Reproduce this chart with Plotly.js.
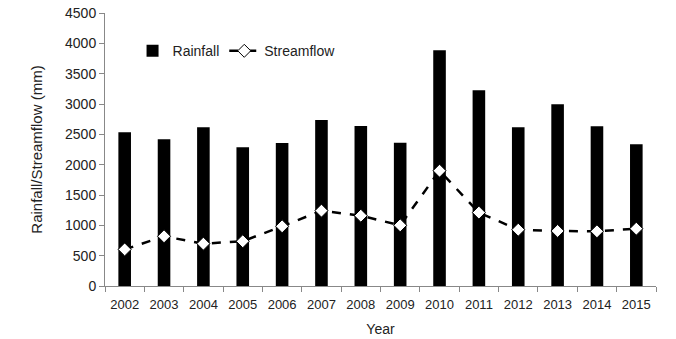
<!DOCTYPE html>
<html>
<head>
<meta charset="utf-8">
<script src="https://cdn.plot.ly/plotly-3.0.1.min.js"></script>
<style>html,body{margin:0;padding:0;background:#fff;}#chart{width:676px;height:339px;}</style>
</head>
<body>
<div id="chart"></div>
<script>
const years = ["2002","2003","2004","2005","2006","2007","2008","2009","2010","2011","2012","2013","2014","2015"];
const rainfall = [2534, 2418, 2616, 2286, 2357, 2737, 2638, 2362, 3885, 3226, 2616, 2995, 2632, 2335];
const streamflow = [603, 819, 698, 737, 984, 1242, 1159, 1000, 1900, 1210, 928, 907, 901, 945];
const yTicks = [0, 500, 1000, 1500, 2000, 2500, 3000, 3500, 4000, 4500];

const font = "Liberation Sans, Arial, sans-serif";
const traces = [
  {
    type: "bar", name: "Rainfall", x: years, y: rainfall,
    marker: {color: "#000000"}
  },
  {
    type: "scatter", mode: "lines+markers", name: "Streamflow", x: years, y: streamflow,
    line: {color: "#000000", width: 2.5, dash: "dash"},
    marker: {symbol: "diamond", size: 10, color: "#ffffff", line: {color: "#000000", width: 1}}
  }
];
const layout = {
  width: 676, height: 339,
  margin: {l: 105, r: 20, t: 13, b: 53},
  paper_bgcolor: "#ffffff", plot_bgcolor: "#ffffff",
  font: {family: font, size: 13, color: "#222222"},
  bargap: 0.68,
  showlegend: true,
  legend: {orientation: "h", x: 0.05, y: 0.86, xanchor: "left", yanchor: "middle",
           font: {family: font, size: 14, color: "#222222"}, bgcolor: "rgba(0,0,0,0)", itemwidth: 30},
  xaxis: {
    type: "category", range: [-0.5, years.length - 0.5], autorange: false,
    showline: true, linecolor: "#888888", linewidth: 1,
    ticks: "outside", tickson: "boundaries", ticklen: 5, tickcolor: "#888888",
    showgrid: false, zeroline: false, tickangle: 0, automargin: false, ticklabelstandoff: 6,
    tickfont: {family: font, size: 13, color: "#222222"},
    title: {text: "Year", font: {family: font, size: 14, color: "#222222"}, standoff: 13}
  },
  yaxis: {
    range: [0, 4500], tickvals: yTicks, ticktext: yTicks.map(String),
    showline: true, linecolor: "#888888", linewidth: 1,
    ticks: "outside", ticklen: 5, tickcolor: "#888888",
    showgrid: false, zeroline: false, automargin: false,
    tickfont: {family: font, size: 14, color: "#222222"},
    title: {text: "Rainfall/Streamflow (mm)", font: {family: font, size: 15, color: "#222222"}, standoff: 18}
  }
};
Plotly.newPlot("chart", traces, layout, {displayModeBar: false, staticPlot: true});
</script>
</body>
</html>
